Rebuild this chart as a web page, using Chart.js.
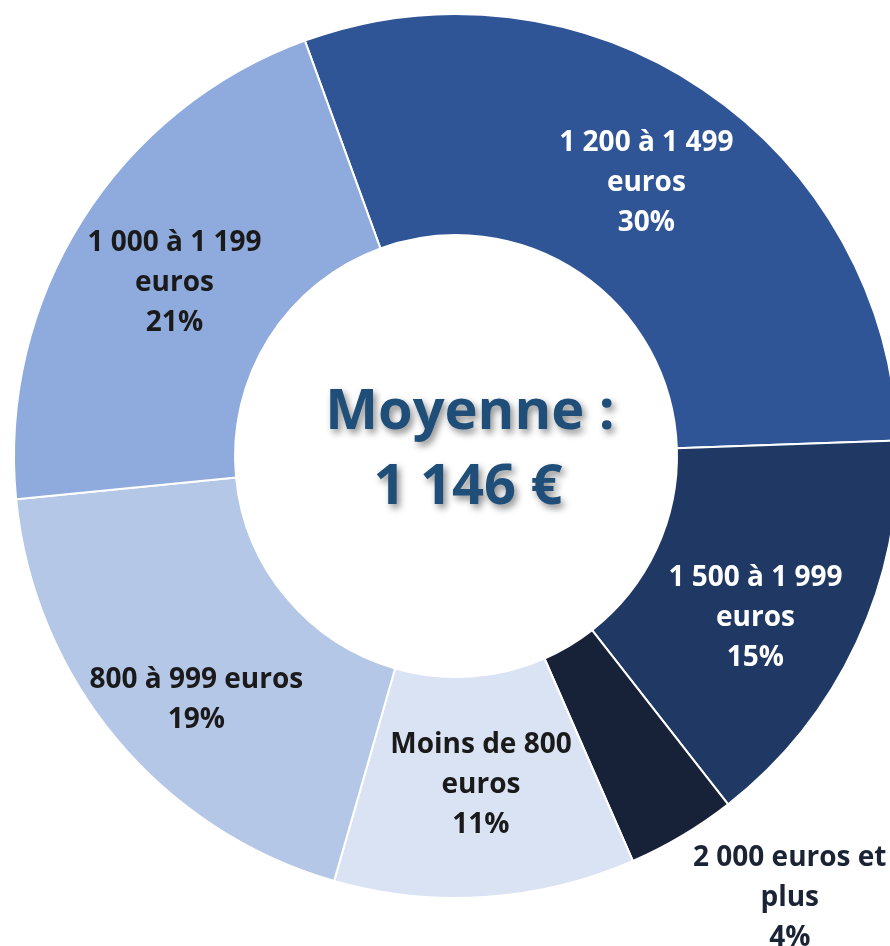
<!DOCTYPE html>
<html lang="fr">
<head>
<meta charset="utf-8">
<title>Répartition des salaires</title>
<script src="https://cdn.jsdelivr.net/npm/chart.js@4.4.1/dist/chart.umd.min.js"></script>
<style>
  html, body { margin: 0; padding: 0; background: #fff; overflow: hidden; }
  #wrap { position: relative; width: 912px; height: 946px; }
</style>
</head>
<body>
<div id="wrap"><canvas id="salaires"></canvas></div>
<script>
// données
const categories = ["1 200 à 1 499 euros", "1 500 à 1 999 euros", "2 000 euros et plus",
  "Moins de 800 euros", "800 à 999 euros", "1 000 à 1 199 euros"];
const values = [30, 15, 4, 11, 19, 21];
const labelLines = [
  ["1 200 à 1 499", "euros"],
  ["1 500 à 1 999", "euros"],
  ["2 000 euros et", "plus"],
  ["Moins de 800", "euros"],
  ["800 à 999 euros"],
  ["1 000 à 1 199", "euros"]
];
const centerLines = ["Moyenne :", "1 146 €"];

// style
const colors = ["#2F5597", "#203864", "#172239", "#DAE3F3", "#B4C7E7", "#8FAADC"];
const textColors = ["#ffffff", "#ffffff", "#1b2434", "#1a1a1a", "#1a1a1a", "#1a1a1a"];
// petits décalages des étiquettes par rapport au milieu de chaque part
const labelNudge = [[5, 2], [-1, 22], [164, 157], [3, -2], [-5, 32], [-1, 4]];
const FONT = "'Open Sans', 'Liberation Sans', sans-serif";

const sliceLabels = {
  id: "sliceLabels",
  afterDatasetsDraw(chart) {
    const c = chart.ctx;
    const meta = chart.getDatasetMeta(0);
    c.save();
    c.font = "bold 28px " + FONT;
    c.textAlign = "center";
    c.textBaseline = "middle";
    meta.data.forEach((arc, i) => {
      const p = arc.tooltipPosition();
      const lines = labelLines[i].concat([values[i] + "%"]);
      const x = p.x + labelNudge[i][0];
      const y = p.y + labelNudge[i][1];
      c.fillStyle = textColors[i];
      lines.forEach((t, k) => {
        c.fillText(t, x, y + (k - (lines.length - 1) / 2) * 40);
      });
    });

    // texte central
    const arc0 = meta.data[0];
    c.font = "bold 56px " + FONT;
    c.fillStyle = "#1F4E79";
    c.shadowColor = "rgba(0,0,0,0.45)";
    c.shadowBlur = 7;
    c.shadowOffsetX = 3;
    c.shadowOffsetY = 4;
    c.fillText(centerLines[0], arc0.x + 14, arc0.y - 43);
    c.fillText(centerLines[1], arc0.x + 12, arc0.y + 32);
    c.restore();
  }
};

new Chart(document.getElementById("salaires"), {
  type: "doughnut",
  data: {
    labels: categories,
    datasets: [{
      data: values,
      backgroundColor: colors,
      borderColor: "#ffffff",
      borderWidth: 2
    }]
  },
  options: {
    responsive: true,
    maintainAspectRatio: false,
    animation: false,
    cutout: "50%",
    rotation: -20,
    layout: { padding: { left: 13, right: 13, top: 13, bottom: 47 } },
    plugins: {
      legend: { display: false },
      tooltip: { enabled: false }
    }
  },
  plugins: [sliceLabels]
});
</script>
</body>
</html>
